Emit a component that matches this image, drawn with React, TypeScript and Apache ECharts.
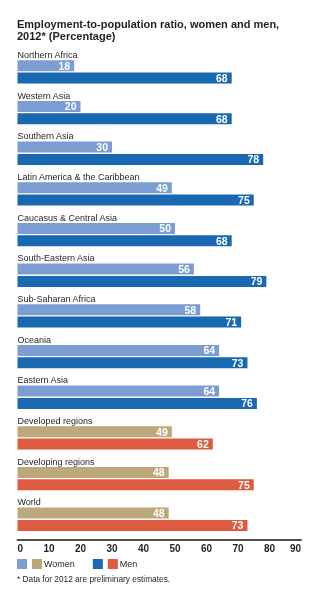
import React, { useEffect, useRef } from "react";
import * as echarts from "echarts";

const categories = [
  "Northern Africa",
  "Western Asia",
  "Southern Asia",
  "Latin America & the Caribbean",
  "Caucasus & Central Asia",
  "South-Eastern Asia",
  "Sub-Saharan Africa",
  "Oceania",
  "Eastern Asia",
  "Developed regions",
  "Developing regions",
  "World",
];
const women = [18, 20, 30, 49, 50, 56, 58, 64, 64, 49, 48, 48];
const men = [68, 68, 78, 75, 68, 79, 71, 73, 76, 62, 75, 73];
const aggregates = ["Developed regions", "Developing regions", "World"];
const xMin = 0;
const xMax = 90;
const xInterval = 10;

const titleText = "Employment-to-population ratio, women and men,\n2012* (Percentage)";
const footnoteText = "* Data for 2012 are preliminary estimates.";

const C_WOMEN = "#7b9dd1";
const C_MEN = "#1868b2";
const C_WOMEN_AGG = "#bca87a";
const C_MEN_AGG = "#de5a41";
const TXT = "#231f20";
const FONT = "'Liberation Sans', Arial, sans-serif";

export default function App() {
  const ref = useRef<HTMLDivElement>(null);
  useEffect(() => {
    if (!ref.current) return;
    const chart = echarts.init(ref.current, undefined, { renderer: "svg" });
    const mk = (vals: number[], base: string, agg: string) =>
      vals.map((v, i) => ({
        value: v,
        itemStyle: { color: aggregates.includes(categories[i]) ? agg : base },
      }));
    const valueLabel = {
      show: true,
      position: "insideRight" as const,
      distance: 4,
      color: "#ffffff",
      fontWeight: "bold" as const,
      fontSize: 10.5,
      fontFamily: FONT,
    };
    chart.setOption({
      animation: false,
      textStyle: { fontFamily: FONT },
      title: [
        {
          text: titleText,
          left: 17,
          top: 18,
          padding: 0,
          textStyle: {
            fontSize: 11,
            fontWeight: "bold",
            color: TXT,
            lineHeight: 12,
            fontFamily: FONT,
          },
        },
        {
          text: footnoteText,
          left: 17,
          top: 575,
          padding: 0,
          textStyle: {
            fontSize: 8.3,
            fontWeight: "normal",
            color: TXT,
            fontFamily: FONT,
          },
        },
      ],
      legend: {
        left: 17,
        top: 559,
        padding: 0,
        itemWidth: 10,
        itemHeight: 10,
        itemGap: 18,
        icon: "rect",
        data: ["Women", "Men"],
        formatter: (name: string) =>
          name === "Women" ? "{w|}{t|Women}" : "{m|}{t|Men}",
        textStyle: {
          color: TXT,
          fontSize: 9,
          fontFamily: FONT,
          rich: {
            w: { width: 10, height: 10, backgroundColor: C_WOMEN_AGG },
            m: { width: 10, height: 10, backgroundColor: C_MEN_AGG },
            t: { fontSize: 9, color: TXT, padding: [0, 0, 0, 2], fontFamily: FONT },
          },
        },
      },
      grid: { left: 17.5, right: 23, top: 51.6, height: 488, containLabel: false },
      xAxis: {
        type: "value",
        min: xMin,
        max: xMax,
        interval: xInterval,
        axisLine: { show: true, lineStyle: { color: "#4d4d4d", width: 2 } },
        axisTick: { show: false },
        splitLine: { show: false },
        axisLabel: {
          margin: 4,
          color: TXT,
          fontSize: 10,
          fontWeight: "bold",
          fontFamily: FONT,
          alignMinLabel: "left",
          alignMaxLabel: "right",
        },
      },
      yAxis: {
        type: "category",
        inverse: true,
        data: categories,
        axisLine: { show: false },
        axisTick: { show: false },
        splitLine: { show: false },
        axisLabel: {
          inside: true,
          interval: 0,
          margin: 0,
          align: "left",
          verticalAlign: "bottom",
          padding: [0, 0, 12.5, 0],
          color: TXT,
          fontSize: 9,
          fontFamily: FONT,
        },
      },
      series: [
        {
          name: "Women",
          type: "bar",
          data: mk(women, C_WOMEN, C_WOMEN_AGG),
          itemStyle: { color: C_WOMEN },
          barWidth: 11,
          barGap: "12%",
          label: valueLabel,
        },
        {
          name: "Men",
          type: "bar",
          data: mk(men, C_MEN, C_MEN_AGG),
          itemStyle: { color: C_MEN },
          barWidth: 11,
          barGap: "12%",
          label: valueLabel,
        },
      ],
    });
    return () => chart.dispose();
  }, []);
  return (
    <div
      ref={ref}
      style={{ position: "fixed", left: 0, top: 0, width: 324, height: 597 }}
    />
  );
}
